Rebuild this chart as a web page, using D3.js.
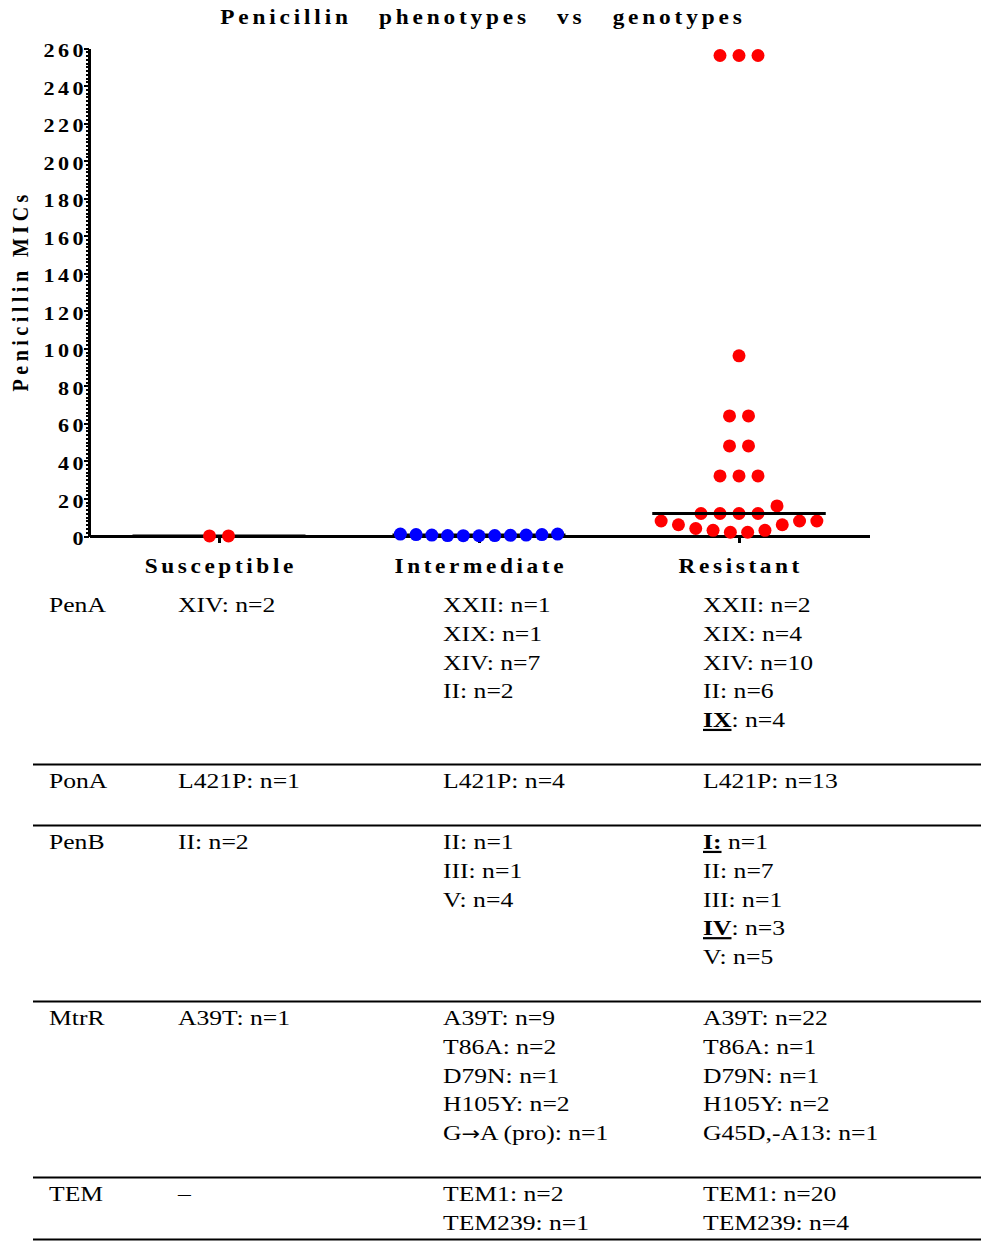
<!DOCTYPE html>
<html>
<head>
<meta charset="utf-8">
<title>Penicillin phenotypes vs genotypes</title>
<script src="https://cdn.jsdelivr.net/npm/d3@7"></script>
<style>
  body { margin: 0; background: #fff; }
  svg { display: block; }
  .axis path, .axis line { stroke: #000; shape-rendering: crispEdges; }
  .axis text, .lab { font-family: "Liberation Serif", "Times New Roman", serif; font-weight: bold; fill: #000; }
  .cell { font-family: "Liberation Serif", "Times New Roman", serif; font-size: 22px; fill: #000; }
  .arrow { font-family: "DejaVu Sans", sans-serif; font-size: 19px; }
</style>
</head>
<body>
<script>
const width = 981, height = 1241;

// ---- chart data (penicillin MICs) ----
const categories = ["Susceptible", "Intermediate", "Resistant"];
const susceptible = [0.06, 0.06];
const intermediate = [1, 1, 0.75, 0.75, 0.5, 0.5, 0.38, 0.25, 0.25, 0.19, 0.125];
const resistant = [256, 256, 256, 96, 64, 64, 48, 48, 32, 32, 32, 16, 12, 12, 12, 12,
                   8, 8, 8, 6, 6, 4, 3, 3, 2, 2];
const dotColors = ["#ff0000", "#0000ff", "#ff0000"];
const yTickValues = [0, 20, 40, 60, 80, 100, 120, 140, 160, 180, 200, 220, 240, 260];

// ---- genotype table (__text__ = bold underlined) ----
const genes = ["PenA", "PonA", "PenB", "MtrR", "TEM"];
const penA = [["XIV: n=2"],
              ["XXII: n=1", "XIX: n=1", "XIV: n=7", "II: n=2"],
              ["XXII: n=2", "XIX: n=4", "XIV: n=10", "II: n=6", "__IX__: n=4"]];
const ponA = [["L421P: n=1"], ["L421P: n=4"], ["L421P: n=13"]];
const penB = [["II: n=2"],
              ["II: n=1", "III: n=1", "V: n=4"],
              ["__I:__ n=1", "II: n=7", "III: n=1", "__IV__: n=3", "V: n=5"]];
const mtrR = [["A39T: n=1"],
              ["A39T: n=9", "T86A: n=2", "D79N: n=1", "H105Y: n=2", "G\u2192A (pro): n=1"],
              ["A39T: n=22", "T86A: n=1", "D79N: n=1", "H105Y: n=2", "G45D,-A13: n=1"]];
const tem = [["\u2013"], ["TEM1: n=2", "TEM239: n=1"], ["TEM1: n=20", "TEM239: n=4"]];
const tableRows = [penA, ponA, penB, mtrR, tem];

// the original figure is a little wider than tall: all text is stretched sideways
const stretch = 1.165;

const svg = d3.select("body").append("svg")
    .attr("width", width)
    .attr("height", height);

// scales
const x = d3.scaleBand().domain(categories).range([89, 869]);
const y = d3.scaleLinear().domain([0, 260]).range([536, 48]);

const r = 6.5, colWidth = 173, maxStep = 19;

// title
svg.append("text")
    .attr("class", "lab")
    .attr("transform", "translate(481,24) scale(" + stretch + ",1)")
    .attr("text-anchor", "middle")
    .attr("dx", 1.6)
    .style("font-size", "20px")
    .style("letter-spacing", "3.3px")
    .style("word-spacing", "15px")
    .text("Penicillin phenotypes vs genotypes");

// y axis title
svg.append("text")
    .attr("class", "lab")
    .attr("transform", "translate(28,293) rotate(-90) scale(1," + stretch + ")")
    .attr("text-anchor", "middle")
    .attr("dx", 2.2)
    .style("font-size", "20px")
    .style("letter-spacing", "4.5px")
    .text("Penicillin MICs");

// minor y ticks
svg.append("g")
    .attr("class", "axis")
    .attr("transform", "translate(89,0)")
    .call(d3.axisLeft(y).tickValues(d3.range(0, 261, 2).filter(function(d){ return d % 20 !== 0; }))
        .tickSize(3).tickSizeOuter(0).tickFormat(""))
    .call(function(g){ g.select(".domain").remove(); })
    .selectAll("line").attr("stroke-width", 2);

// major y ticks + labels
const yAxisG = svg.append("g")
    .attr("class", "axis")
    .attr("transform", "translate(89,0)")
    .call(d3.axisLeft(y).tickValues(yTickValues).tickSize(5).tickSizeOuter(0));
yAxisG.select(".domain").attr("stroke-width", 3);
yAxisG.selectAll(".tick line").attr("stroke-width", 2);
yAxisG.selectAll(".tick text")
    .attr("x", -1.8)
    .attr("dy", "0.45em")
    .attr("transform", "scale(" + stretch + ",1)")
    .style("font-size", "19px")
    .style("letter-spacing", "2.9px");

// x axis
const xAxisG = svg.append("g")
    .attr("class", "axis")
    .attr("transform", "translate(0,536)")
    .call(d3.axisBottom(x).tickSize(7).tickSizeOuter(0).tickPadding(16));
xAxisG.select(".domain").attr("stroke-width", 3);
xAxisG.selectAll(".tick line").attr("stroke-width", 3);
xAxisG.selectAll(".tick text")
    .attr("dx", 1.55)
    .attr("transform", "scale(" + stretch + ",1)")
    .style("font-size", "20px")
    .style("letter-spacing", "3.1px");

// simple row-based beeswarm: values close in y share a row, lowest values sit in the middle
function swarm(values, cx) {
  const sorted = values.slice().sort(d3.ascending);
  const rows = [];
  sorted.forEach(function(v){
    const last = rows[rows.length - 1];
    if (last && y(last[0]) - y(v) < 2 * r) last.push(v);
    else rows.push([v]);
  });
  const pts = [];
  rows.forEach(function(row){
    const n = row.length;
    const step = Math.min(maxStep, colWidth / n);
    const c = (n - 1) / 2;
    const order = [];
    let lo = Math.floor(c), hi = Math.ceil(c);
    if (lo === hi) { order.push(lo); lo--; hi++; }
    while (order.length < n) { order.push(lo--); order.push(hi++); }
    row.forEach(function(v, i){
      pts.push({ value: v, x: cx + (order[i] - c) * step });
    });
  });
  return pts;
}

const groups = [susceptible, intermediate, resistant].map(function(vals, i){
  const cx = x(categories[i]) + x.bandwidth() / 2;
  return { name: categories[i], cx: cx, color: dotColors[i], points: swarm(vals, cx), median: d3.median(vals) };
});

// median lines sit under the dots near zero, on top for the resistant column
svg.append("g")
    .selectAll("line")
    .data(groups)
    .enter()
    .append("line")
    .attr("x1", function(d){ return d.cx - colWidth / 2; })
    .attr("x2", function(d){ return d.cx + colWidth / 2; })
    .attr("y1", function(d){ return y(d.median); })
    .attr("y2", function(d){ return y(d.median); })
    .attr("stroke", "#000")
    .attr("stroke-width", 3);

const dotG = svg.append("g");
groups.forEach(function(g){
  dotG.selectAll(null)
      .data(g.points)
      .enter()
      .append("circle")
      .attr("cx", function(d){ return d.x; })
      .attr("cy", function(d){ return y(d.value); })
      .attr("r", r)
      .attr("fill", g.color);
});

svg.append("line")
    .attr("x1", groups[2].cx - colWidth / 2)
    .attr("x2", groups[2].cx + colWidth / 2)
    .attr("y1", y(groups[2].median))
    .attr("y2", y(groups[2].median))
    .attr("stroke", "#000")
    .attr("stroke-width", 3);

// ---- table ----
const colX = [49, 178, 443, 703];
const lineGap = 28.75;

function cellText(str, tx, ty) {
  const t = svg.append("text")
      .attr("class", "cell")
      .attr("transform", "translate(" + tx + "," + ty + ") scale(" + stretch + ",1)");
  str.split("__").forEach(function(part, i){
    if (!part) return;
    if (i % 2 === 1) {
      t.append("tspan").text(part)
          .style("font-weight", "bold").style("text-decoration", "underline");
    } else {
      part.split(/(\u2192)/).forEach(function(bit){
        if (!bit) return;
        const ts = t.append("tspan").text(bit);
        if (bit === "\u2192") ts.attr("class", "arrow");
      });
    }
  });
}

let base = 612;
tableRows.forEach(function(row, ri){
  if (ri > 0) {
    svg.append("line")
        .attr("x1", 33).attr("x2", width)
        .attr("y1", base).attr("y2", base)
        .attr("stroke", "#000").attr("stroke-width", 2);
    base += 23.5;
  }
  cellText(genes[ri], colX[0], base);
  row.forEach(function(col, ci){
    col.forEach(function(s, li){
      cellText(s, colX[ci + 1], base + li * lineGap);
    });
  });
  const nLines = d3.max(row, function(c){ return c.length; });
  base = base + (nLines - 1) * lineGap + 37.5;
});
svg.append("line")
    .attr("x1", 33).attr("x2", width)
    .attr("y1", height - 1.5).attr("y2", height - 1.5)
    .attr("stroke", "#000").attr("stroke-width", 2);
</script>
</body>
</html>
